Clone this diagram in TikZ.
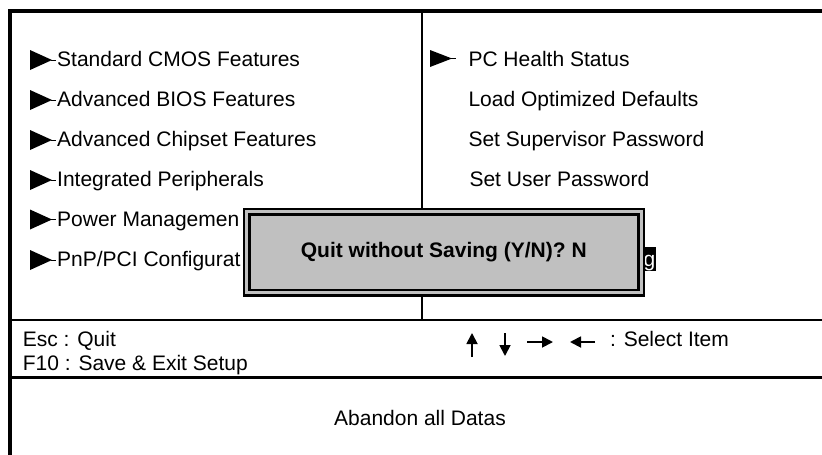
\documentclass[tikz,border=0pt]{standalone}
\usepackage{fontspec}
\setmainfont{Liberation Sans}
\usetikzlibrary{arrows.meta}
\usetikzlibrary{calc}
\definecolor{boxgray}{HTML}{C0C0C0}
\newcommand*\menuptr[3]{% x, y, height of the pointer
  \fill (#1,#2-#3/2) -- (#1+22,#2) -- (#1,#2+#3/2) -- cycle;
  \draw[line width=1pt] (#1+21,#2) -- (#1+26,#2);}

\begin{document}
\begin{tikzpicture}[x=1pt, y=-1pt,
    item/.style={anchor=base west, inner sep=0pt, font=\fontsize{21}{25}\selectfont},
    keyarrow/.style={line width=1.8pt, -{Triangle[length=11pt,width=11pt]}}]

    \useasboundingbox (0,0) rectangle (822,455);

    % Frame and rules
    \draw[line width=3.5pt] (10,455) -- (10,11) -- (822,11);
    \draw[line width=2pt] (422,11) -- (422,319.5);
    \draw[line width=2pt] (10,319.5) -- (822,319.5);
    \draw[line width=2.5pt] (10,377.5) -- (822,377.5);

    % Define nodes
    \node (std) [item] at (57,66.7) {Standard CMOS Features};
    \node (bios) [item] at (57,106.7) {Advanced BIOS Features};
    \node (chip) [item] at (57,146.7) {Advanced Chipset Features};
    \node (integ) [item] at (57,186.7) {Integrated Peripherals};
    \node (power) [item] at (57,226.5) {Power Managemen};
    \node (pnp) [item] at (57,266.5) {PnP/PCI Configurat};

    \node (health) [item] at (468.3,66.7) {PC Health Status};
    \node (loadopt) [item] at (468.3,106.7) {Load Optimized Defaults};
    \node (superpw) [item] at (468.3,146.7) {Set Supervisor Password};
    \node (userpw) [item] at (469.3,186.7) {Set User Password};
    \node (exitsel) [item, fill=black, text=white, inner xsep=1pt, text height=19.5pt, text depth=4.5pt] at (642.5,266.5) {g};

    \node (esc) [item] at (22.7,346) {Esc : Quit};
    \node (f10) [item] at (22.7,370) {F10 : Save \& Exit Setup};
    \node (select) [item] at (610,346.7) {: Select Item};
    \node (abandon) [item, anchor=base] at (420,425.5) {Abandon all Datas};

    % Menu pointers
    \menuptr{30}{60}{20}
    \menuptr{30}{100}{20}
    \menuptr{30}{140}{20}
    \menuptr{30}{180}{20}
    \menuptr{30}{219.5}{20}
    \menuptr{30}{260}{20}
    \menuptr{430}{58.5}{17}

    % Dialog
    \node (quitbox) [draw, line width=2.5pt, double=boxgray, double distance=3pt, fill=boxgray,
        minimum width=394.5pt, minimum height=81pt, inner sep=0pt,
        font=\bfseries\fontsize{21}{25}\selectfont] at (443.75,252) {Quit without Saving (Y/N)? N};

    % Draw arrows
    \draw[keyarrow] (472,357) -- (472,333);
    \draw[keyarrow] (505,333) -- (505,356);
    \draw[keyarrow] (527,342) -- (553,342);
    \draw[keyarrow] (595,342) -- (570,342);

\end{tikzpicture}
\end{document}
